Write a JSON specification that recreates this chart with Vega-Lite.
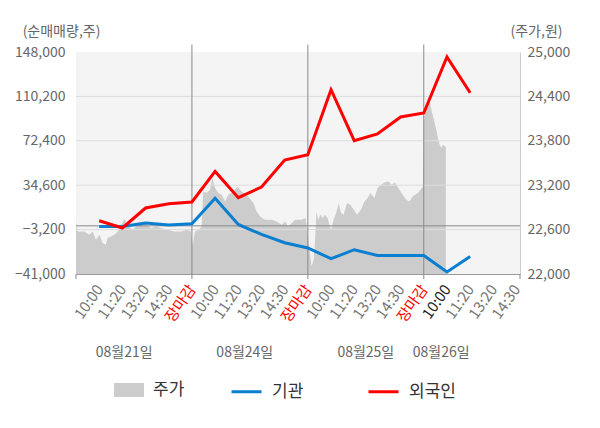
{
  "$schema": "https://vega.github.io/schema/vega-lite/v6.json",
  "width": 444,
  "height": 222,
  "autosize": {"type": "none"},
  "padding": {"left": 76, "top": 52, "right": 80, "bottom": 154},
  "background": "white",
  "config": {
    "font": "Noto Sans CJK KR",
    "view": {"fill": "#f4f4f4", "stroke": null},
    "axis": {
      "grid": false,
      "domain": false,
      "ticks": false,
      "labelFont": "Noto Sans CJK KR",
      "labelColor": "#666666",
      "labelFontSize": 14,
      "titleFont": "Noto Sans CJK KR",
      "titleFontWeight": "normal",
      "titleColor": "#666666",
      "titleFontSize": 14
    },
    "axisX": {"labelOverlap": false, "labelFlush": false, "labelBound": false},
    "axisY": {"labelOverlap": false, "labelFlush": false, "labelBound": false},
    "legend": {"labelFont": "Noto Sans CJK KR"}
  },
  "datasets": {
    "price": [
      {"t": 0, "price": 22711}, {"t": 0.07, "price": 22576}, {"t": 0.36, "price": 22576}, {"t": 0.57, "price": 22531},
      {"t": 0.72, "price": 22576}, {"t": 0.86, "price": 22463}, {"t": 1.01, "price": 22531}, {"t": 1.15, "price": 22419},
      {"t": 1.29, "price": 22396}, {"t": 1.36, "price": 22486}, {"t": 1.51, "price": 22508}, {"t": 1.65, "price": 22531},
      {"t": 1.87, "price": 22598}, {"t": 2.08, "price": 22745}, {"t": 2.23, "price": 22666}, {"t": 2.44, "price": 22598},
      {"t": 2.66, "price": 22666}, {"t": 2.87, "price": 22711}, {"t": 3.02, "price": 22666}, {"t": 3.24, "price": 22621},
      {"t": 3.45, "price": 22643}, {"t": 3.67, "price": 22621}, {"t": 3.95, "price": 22598}, {"t": 4.24, "price": 22576},
      {"t": 4.53, "price": 22576}, {"t": 4.81, "price": 22598}, {"t": 4.96, "price": 22576},
      {"t": 5.03, "price": 22382}, {"t": 5.13, "price": 22576}, {"t": 5.28, "price": 22598}, {"t": 5.42, "price": 22643},
      {"t": 5.49, "price": 23116}, {"t": 5.63, "price": 23094}, {"t": 5.78, "price": 23139}, {"t": 5.88, "price": 23297},
      {"t": 6.0, "price": 23162}, {"t": 6.14, "price": 23094}, {"t": 6.28, "price": 23071}, {"t": 6.43, "price": 22981},
      {"t": 6.57, "price": 23071}, {"t": 6.79, "price": 23116}, {"t": 6.97, "price": 23184}, {"t": 7.07, "price": 23139},
      {"t": 7.22, "price": 23094}, {"t": 7.43, "price": 23048}, {"t": 7.65, "price": 22959}, {"t": 7.79, "price": 22846},
      {"t": 7.94, "price": 22778}, {"t": 8.15, "price": 22734}, {"t": 8.44, "price": 22734}, {"t": 8.65, "price": 22711},
      {"t": 8.87, "price": 22666}, {"t": 9.02, "price": 22711}, {"t": 9.16, "price": 22643}, {"t": 9.45, "price": 22734},
      {"t": 9.73, "price": 22734}, {"t": 9.9, "price": 22756},
      {"t": 10.0, "price": 22531}, {"t": 10.11, "price": 22238}, {"t": 10.16, "price": 22103}, {"t": 10.25, "price": 22193},
      {"t": 10.31, "price": 22463}, {"t": 10.37, "price": 22846}, {"t": 10.45, "price": 22734}, {"t": 10.54, "price": 22801},
      {"t": 10.64, "price": 22756}, {"t": 10.74, "price": 22801}, {"t": 10.85, "price": 22756}, {"t": 11.0, "price": 22598},
      {"t": 11.11, "price": 22734}, {"t": 11.22, "price": 22824}, {"t": 11.33, "price": 22959}, {"t": 11.43, "price": 22824},
      {"t": 11.54, "price": 22801}, {"t": 11.69, "price": 22959}, {"t": 11.83, "price": 22936}, {"t": 11.98, "price": 22869},
      {"t": 12.12, "price": 22801}, {"t": 12.29, "price": 22869}, {"t": 12.44, "price": 22981}, {"t": 12.58, "price": 23027},
      {"t": 12.7, "price": 23094}, {"t": 12.87, "price": 23027}, {"t": 13.01, "price": 23162}, {"t": 13.16, "price": 23206},
      {"t": 13.3, "price": 23238}, {"t": 13.47, "price": 23251}, {"t": 13.62, "price": 23206}, {"t": 13.76, "price": 23238},
      {"t": 13.95, "price": 23139}, {"t": 14.09, "price": 23071}, {"t": 14.24, "price": 23004}, {"t": 14.38, "price": 22981},
      {"t": 14.52, "price": 23048}, {"t": 14.74, "price": 23094}, {"t": 14.88, "price": 23148}, {"t": 14.96, "price": 23184},
      {"t": 15.0, "price": 24040}, {"t": 15.06, "price": 24175}, {"t": 15.14, "price": 24287}, {"t": 15.23, "price": 24400},
      {"t": 15.31, "price": 24243}, {"t": 15.4, "price": 24130}, {"t": 15.49, "price": 24017}, {"t": 15.57, "price": 23905},
      {"t": 15.66, "price": 23770}, {"t": 15.75, "price": 23702}, {"t": 15.83, "price": 23747}, {"t": 15.92, "price": 23724},
      {"t": 15.95, "price": 23724}
    ],
    "flows": [
      {"t": 1, "series": "기관", "v": -484}, {"t": 2, "series": "기관", "v": -484}, {"t": 3, "series": "기관", "v": 2411},
      {"t": 4, "series": "기관", "v": 708}, {"t": 5, "series": "기관", "v": 1815}, {"t": 6, "series": "기관", "v": 23400},
      {"t": 7, "series": "기관", "v": 1219}, {"t": 8, "series": "기관", "v": -7295}, {"t": 9, "series": "기관", "v": -14362},
      {"t": 10, "series": "기관", "v": -18874}, {"t": 11, "series": "기관", "v": -27985}, {"t": 12, "series": "기관", "v": -20322},
      {"t": 13, "series": "기관", "v": -25175}, {"t": 14, "series": "기관", "v": -25175}, {"t": 15, "series": "기관", "v": -25175},
      {"t": 16, "series": "기관", "v": -39308}, {"t": 17, "series": "기관", "v": -26026},
      {"t": 1, "series": "외국인", "v": 4369}, {"t": 2, "series": "외국인", "v": -1846}, {"t": 3, "series": "외국인", "v": 15182},
      {"t": 4, "series": "외국인", "v": 18843}, {"t": 5, "series": "외국인", "v": 20290}, {"t": 6, "series": "외국인", "v": 46343},
      {"t": 7, "series": "외국인", "v": 23951}, {"t": 8, "series": "외국인", "v": 33061}, {"t": 9, "series": "외국인", "v": 56049},
      {"t": 10, "series": "외국인", "v": 60561}, {"t": 11, "series": "외국인", "v": 115902}, {"t": 12, "series": "외국인", "v": 72481},
      {"t": 13, "series": "외국인", "v": 78185}, {"t": 14, "series": "외국인", "v": 92659}, {"t": 15, "series": "외국인", "v": 96065},
      {"t": 16, "series": "외국인", "v": 143743}, {"t": 17, "series": "외국인", "v": 113348}
    ],
    "grid": [{"v": -3200}, {"v": 34600}, {"v": 72400}, {"v": 110200}],
    "zero": [{"v": 0}],
    "days": [{"t": 5}, {"t": 10}, {"t": 15}],
    "edges": [{"t": 0}, {"t": 19.15}],
    "dates": [
      {"t": 2.08, "label": "08월21일"},
      {"t": 7.28, "label": "08월24일"},
      {"t": 12.5, "label": "08월25일"},
      {"t": 15.75, "label": "08월26일"}
    ]
  },
  "layer": [
    {
      "data": {"name": "price"},
      "mark": {"type": "area", "clip": true, "interpolate": "linear"},
      "encoding": {
        "x": {
          "field": "t",
          "type": "quantitative",
          "scale": {"domain": [0, 19.15], "nice": false, "zero": false},
          "axis": {
            "title": null,
            "values": [1, 2, 3, 4, 5, 6, 7, 8, 9, 10, 11, 12, 13, 14, 15, 16, 17, 18, 19],
            "labelExpr": "['10:00','11:20','13:20','14:30','장마감'][(datum.value - 1) % 5]",
            "labelAngle": -55,
            "labelAlign": "right",
            "labelBaseline": "middle",
            "labelPadding": 12,
            "labelFontSize": 15,
            "labelOverlap": false,
            "labelColor": {
              "condition": [
                {"test": "datum.value % 5 === 0", "value": "#ff0000"},
                {"test": "datum.value === 16", "value": "#222222"}
              ],
              "value": "#777777"
            },
            "domain": true,
            "domainColor": "#999999"
          }
        },
        "y": {
          "field": "price",
          "type": "quantitative",
          "scale": {"domain": [22000, 25000], "nice": false, "zero": false},
          "axis": {
            "orient": "right",
            "values": [22000, 22600, 23200, 23800, 24400, 25000],
            "format": ",.0f",
            "labelPadding": 7,
            "domain": true,
            "domainColor": "#cccccc",
            "title": "(주가,원)",
            "titleAngle": 0,
            "titleAlign": "center",
            "titleBaseline": "middle",
            "titleX": 16,
            "titleY": -21
          }
        },
        "y2": {"datum": 22000},
        "fill": {
          "datum": "주가",
          "scale": {"domain": ["주가"], "range": ["#cccccc"]},
          "legend": {
            "title": null,
            "orient": "none",
            "legendX": 38,
            "legendY": 323,
            "direction": "horizontal",
            "padding": 0,
            "symbolType": "M-1,-0.47H1V0.47H-1Z",
            "symbolSize": 900,
            "symbolStrokeWidth": 0,
            "labelFontSize": 17,
            "labelColor": "#333333",
            "labelOffset": 9
          }
        }
      }
    },
    {
      "layer": [
        {
          "data": {"name": "flows"},
          "mark": {"type": "line", "strokeWidth": 3, "opacity": 0},
          "encoding": {
            "x": {"field": "t", "type": "quantitative", "axis": null, "scale": {"domain": [0, 19.15], "nice": false, "zero": false}},
            "y": {
              "field": "v",
              "type": "quantitative",
              "scale": {"domain": [-41000, 148000], "nice": false, "zero": false},
              "axis": {
                "orient": "left",
                "values": [-41000, -3200, 34600, 72400, 110200, 148000],
                "format": ",.0f",
                "labelPadding": 11,
                "title": "(순매매량,주)",
                "titleAngle": 0,
                "titleAlign": "center",
                "titleBaseline": "middle",
                "titleX": -15,
                "titleY": -21
              }
            },
            "detail": {"field": "series"}
          }
        },
        {
          "data": {"name": "grid"},
          "mark": {"type": "rule", "color": "#dddddd", "strokeWidth": 1},
          "encoding": {
            "y": {"field": "v", "type": "quantitative", "scale": {"domain": [-41000, 148000], "nice": false, "zero": false}}
          }
        },
        {
          "data": {"name": "days"},
          "mark": {"type": "rule", "color": "#8a8a8a", "strokeWidth": 1, "clip": false},
          "encoding": {
            "x": {"field": "t", "type": "quantitative", "axis": null, "scale": {"domain": [0, 19.15], "nice": false, "zero": false}},
            "y": {"datum": 154300, "type": "quantitative", "scale": {"domain": [-41000, 148000], "nice": false, "zero": false}},
            "y2": {"datum": -45300}
          }
        },
        {
          "data": {"name": "edges"},
          "mark": {"type": "rule", "color": "#8a8a8a", "strokeWidth": 1, "clip": false},
          "encoding": {
            "x": {"field": "t", "type": "quantitative", "axis": null, "scale": {"domain": [0, 19.15], "nice": false, "zero": false}},
            "y": {"datum": -41000, "type": "quantitative", "scale": {"domain": [-41000, 148000], "nice": false, "zero": false}},
            "y2": {"datum": -45300}
          }
        },
        {
          "data": {"name": "zero"},
          "mark": {"type": "rule", "color": "#888888", "strokeWidth": 1},
          "encoding": {
            "y": {"field": "v", "type": "quantitative", "scale": {"domain": [-41000, 148000], "nice": false, "zero": false}}
          }
        },
        {
          "data": {"name": "flows"},
          "mark": {"type": "line", "strokeWidth": 3},
          "encoding": {
            "x": {"field": "t", "type": "quantitative", "axis": null, "scale": {"domain": [0, 19.15], "nice": false, "zero": false}},
            "y": {"field": "v", "type": "quantitative", "scale": {"domain": [-41000, 148000], "nice": false, "zero": false}},
            "stroke": {
              "field": "series",
              "type": "nominal",
              "scale": {"domain": ["기관", "외국인"], "range": ["#0a7fd0", "#ff0000"]},
              "legend": {
                "title": null,
                "orient": "none",
                "legendX": 154,
                "legendY": 323,
                "direction": "horizontal",
                "padding": 0,
                "symbolType": "stroke",
                "symbolSize": 900,
                "symbolStrokeWidth": 3,
                "labelFontSize": 17,
                "labelColor": "#333333",
                "labelOffset": 9,
                "columnPadding": 58
              }
            }
          }
        },
        {
          "data": {"name": "dates"},
          "mark": {"type": "text", "fontSize": 14, "color": "#666666", "dy": 79, "align": "center", "baseline": "middle", "clip": false},
          "encoding": {
            "x": {"field": "t", "type": "quantitative", "axis": null, "scale": {"domain": [0, 19.15], "nice": false, "zero": false}},
            "y": {"datum": -41000, "type": "quantitative", "scale": {"domain": [-41000, 148000], "nice": false, "zero": false}},
            "text": {"field": "label"}
          }
        }
      ]
    }
  ],
  "resolve": {
    "scale": {"y": "independent", "fill": "independent", "stroke": "independent"},
    "axis": {"x": "independent"}
  }
}
